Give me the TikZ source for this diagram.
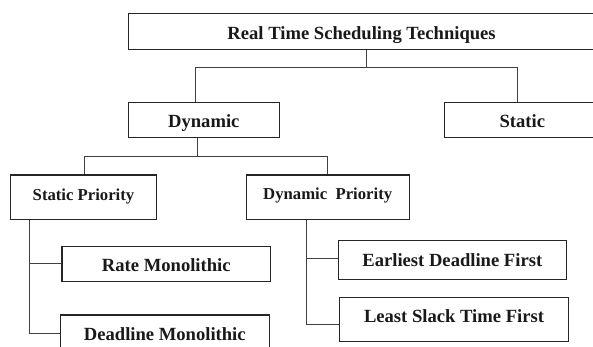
\documentclass[tikz,border=0pt]{standalone}
\usepackage{fontspec}
\setmainfont{Liberation Serif}
\begin{document}
\begin{tikzpicture}[x=1pt,y=-1pt,
  boxnode/.style={draw=black!85, line width=1.1pt, inner sep=0pt, font=\bfseries\fontsize{18.6}{22}\selectfont, text=black!90},
  smallbox/.style={boxnode, font=\bfseries\fontsize{16.7}{20}\selectfont},
  conn/.style={draw=black!75, line width=0.9pt}]
\useasboundingbox (0,0) rectangle (593,347);
\fill[white] (0,0) rectangle (593,347);
\node[boxnode, minimum width=466.7pt, minimum height=36pt, text height=15.7pt, text depth=0pt] (top) at (361.6,31.3) {Real Time Scheduling Techniques};
\node[boxnode, minimum width=151pt, minimum height=35.3pt, text height=15.1pt, text depth=0pt] (dyn) at (203.8,120.3) {Dynamic};
\node[boxnode, minimum width=155.3pt, minimum height=35.3pt, text height=14.3pt, text depth=0pt] (stat) at (522.3,120.3) {Static};
\node[smallbox, minimum width=146.4pt, minimum height=44.3pt, text height=11pt, text depth=5pt] (sp) at (83.5,197.2) {Static Priority};
\node[smallbox, minimum width=163.3pt, minimum height=44.3pt, text height=11pt, text depth=6.8pt] (dp) at (327.7,197.2) {Dynamic\ \ Priority};
\node[boxnode, minimum width=208.7pt, minimum height=35pt, text height=15.3pt, text depth=0pt] (rm) at (166.3,264.2) {Rate Monolithic};
\node[boxnode, minimum width=209pt, minimum height=36.6pt, text height=14.7pt, text depth=0pt] (dm) at (164.8,333.3) {Deadline Monolithic};
\node[boxnode, minimum width=228pt, minimum height=39.3pt, text height=12.3pt, text depth=0pt] (edf) at (452.3,260) {Earliest Deadline First};
\node[boxnode, minimum width=229.4pt, minimum height=44.3pt, text height=12.3pt, text depth=6pt] (lstf) at (454,319.2) {Least Slack Time First};
% level 1 bus
\coordinate (busT) at (366,67.3);
\coordinate (busL) at (195.7,67.3);
\coordinate (busR) at (517,67.3);
\draw[conn] (busT |- top.south) -- (busT);
\draw[conn] (busL |- dyn.north) -- (busL) -- (busR) -- (busR |- stat.north);
% level 2 bus
\coordinate (bus2T) at (197,156);
\coordinate (bus2L) at (84,156);
\coordinate (bus2R) at (327.7,156);
\draw[conn] (bus2T |- dyn.south) -- (bus2T);
\draw[conn] (bus2L |- sp.north) -- (bus2L) -- (bus2R) -- (bus2R |- dp.north);
% static priority children
\coordinate (spA) at (29.3,263.7);
\coordinate (spB) at (29.3,333.3);
\draw[conn] (spA |- sp.south) -- (spB) -- (spB -| dm.west);
\draw[conn] (spA) -- (spA -| rm.west);
% dynamic priority children
\coordinate (dpA) at (306,258);
\coordinate (dpB) at (306,324);
\draw[conn] (dpA |- dp.south) -- (dpB) -- (dpB -| lstf.west);
\draw[conn] (dpA) -- (dpA -| edf.west);
\end{tikzpicture}
\end{document}
